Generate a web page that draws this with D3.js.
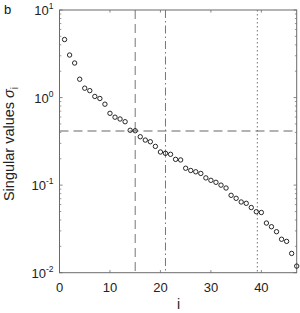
<!DOCTYPE html>
<html>
<head>
<meta charset="utf-8">
<script src="https://cdn.jsdelivr.net/npm/d3@7"></script>
<style>
  html, body { margin: 0; padding: 0; background: #fff; }
  svg { display: block; font-family: "Liberation Sans", Arial, sans-serif; }
</style>
</head>
<body>
<svg id="chart" width="300" height="313"></svg>
<script>
// ── Data ─────────────────────────────────────────────────────
const INDEX = d3.range(1, 48);
const SIGMA = [
  4.6, 3.06, 2.48, 1.62, 1.28, 1.20, 1.03, 0.976, 0.84, 0.661,
  0.597, 0.569, 0.530, 0.423, 0.418, 0.357, 0.327, 0.313, 0.277, 0.239,
  0.231, 0.225, 0.197, 0.194, 0.156, 0.147, 0.142, 0.136, 0.121, 0.1135,
  0.1077, 0.100, 0.0927, 0.0765, 0.0707, 0.0642, 0.062, 0.0555, 0.0497, 0.0487,
  0.0369, 0.0335, 0.0294, 0.0241, 0.0228, 0.0166, 0.0119
];
const X_TICKS = [0, 10, 20, 30, 40];
const Y_TICKS = [-2, -1, 0, 1];          // exponents of 10
const H_LINE  = 0.415;                   // threshold
const V_LINES = [
  { x: 15,   dash: "9,5" },
  { x: 21,   dash: "8,3,1.5,3" },
  { x: 39.2, dash: "1.5,2.5" }
];

// ── Layout ───────────────────────────────────────────────────
const M = { left: 59.5, top: 10, right: 3.3, bottom: 40.3 };
const W = 300 - M.left - M.right;
const H = 313 - M.top - M.bottom;
const AXIS = "#6b6b6b";
const TICK = 2.6;

const svg = d3.select("#chart");
const g = svg.append("g").attr("transform", `translate(${M.left},${M.top})`);

const x = d3.scaleLinear().domain([0, 47]).range([0, W]);
const y = d3.scaleLog().domain([0.01, 10]).range([H, 0]);

// ── Ticks (inside, both sides) ───────────────────────────────
X_TICKS.forEach(t => {
  [[H, H - TICK], [0, TICK]].forEach(([a, b]) =>
    g.append("line").attr("x1", x(t)).attr("x2", x(t)).attr("y1", a).attr("y2", b)
      .attr("stroke", AXIS).attr("stroke-width", 0.8));
});
const minor = [];
for (let e = -2; e < 1; e++) for (let k = 2; k <= 9; k++) minor.push(k * Math.pow(10, e));
Y_TICKS.forEach(e => {
  const v = Math.pow(10, e);
  [[0, TICK * 1.2], [W, W - TICK * 1.2]].forEach(([a, b]) =>
    g.append("line").attr("y1", y(v)).attr("y2", y(v)).attr("x1", a).attr("x2", b)
      .attr("stroke", AXIS).attr("stroke-width", 0.8));
});
minor.forEach(v => {
  [[0, TICK * 0.7], [W, W - TICK * 0.7]].forEach(([a, b]) =>
    g.append("line").attr("y1", y(v)).attr("y2", y(v)).attr("x1", a).attr("x2", b)
      .attr("stroke", AXIS).attr("stroke-width", 0.7));
});

// ── Reference lines ──────────────────────────────────────────
g.append("line").attr("x1", 0).attr("x2", W).attr("y1", y(H_LINE)).attr("y2", y(H_LINE))
  .attr("stroke", "#555").attr("stroke-width", 0.9).attr("stroke-dasharray", "9,5");
V_LINES.forEach(l =>
  g.append("line").attr("x1", x(l.x)).attr("x2", x(l.x)).attr("y1", 0).attr("y2", H)
    .attr("stroke", "#666").attr("stroke-width", 0.9).attr("stroke-dasharray", l.dash));

// ── Box ──────────────────────────────────────────────────────
g.append("rect").attr("width", W).attr("height", H)
  .attr("fill", "none").attr("stroke", AXIS).attr("stroke-width", 1);

// ── Points ───────────────────────────────────────────────────
g.selectAll("circle.pt").data(INDEX.map((i, k) => [i, SIGMA[k]]))
  .enter().append("circle").attr("class", "pt")
  .attr("cx", d => x(d[0])).attr("cy", d => y(d[1])).attr("r", 2.2)
  .attr("fill", "none").attr("stroke", "#111").attr("stroke-width", 0.9);

// ── Tick labels ──────────────────────────────────────────────
X_TICKS.forEach(t =>
  g.append("text").attr("x", x(t)).attr("y", H + 19).attr("text-anchor", "middle")
    .attr("font-size", 13).attr("fill", "#222").text(t));
Y_TICKS.forEach(e => {
  const tx = g.append("text").attr("x", -6).attr("y", y(Math.pow(10, e)) + 5)
    .attr("text-anchor", "end").attr("font-size", 13).attr("fill", "#222");
  tx.append("tspan").text("10");
  tx.append("tspan").attr("dy", -6).attr("font-size", 8.5).text(e);
});

// ── Axis labels ──────────────────────────────────────────────
g.append("text").attr("x", x(23.6)).attr("y", H + 36.5).attr("text-anchor", "middle")
  .attr("font-size", 14).attr("fill", "#222").text("i");
const yl = svg.append("text")
  .attr("transform", `translate(14,144) rotate(-90)`)
  .attr("text-anchor", "middle").attr("font-size", 14.5).attr("fill", "#222");
yl.append("tspan").text("Singular values ");
yl.append("tspan").attr("font-style", "italic").text("σ");
yl.append("tspan").attr("dy", 4).attr("font-size", 10).text("i");

// ── Panel letter ─────────────────────────────────────────────
svg.append("text").attr("x", 4).attr("y", 13.5).attr("font-size", 13)
  .attr("fill", "#111").text("b");
</script>
</body>
</html>
